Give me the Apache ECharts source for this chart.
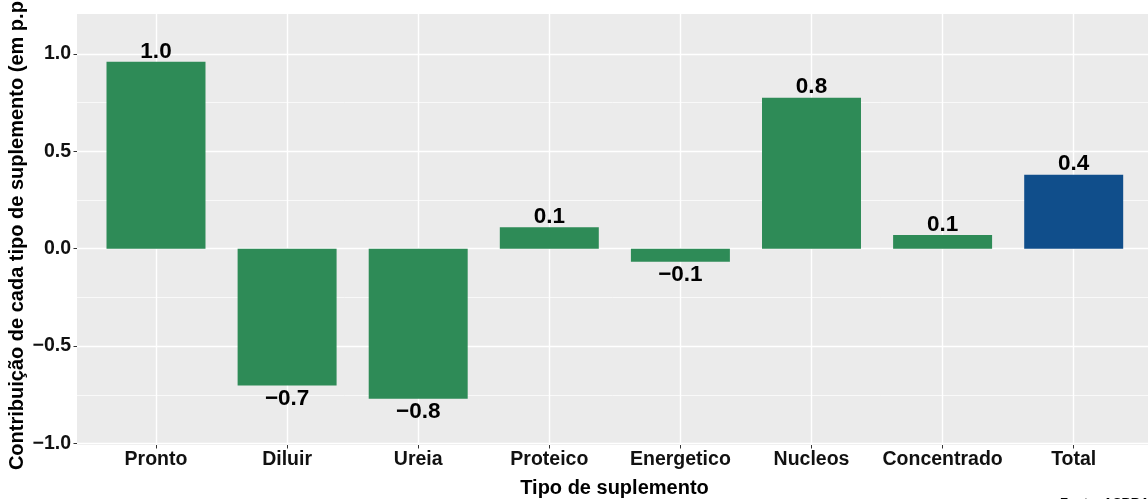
<!DOCTYPE html>
<html>
<head>
<meta charset="utf-8">
<script src="https://cdn.jsdelivr.net/npm/echarts@6/dist/echarts.min.js"></script>
<style>
  html, body { margin: 0; padding: 0; background: #fff; }
  #chart { width: 1148px; height: 499px; }
</style>
</head>
<body>
<div id="chart"></div>
<script>
// dados
var categories = ['Pronto', 'Diluir', 'Ureia', 'Proteico', 'Energetico', 'Nucleos', 'Concentrado', 'Total'];
var contributions = [0.960, -0.702, -0.770, 0.110, -0.067, 0.776, 0.070, 0.380];
var yTicks = [-1.0, -0.5, 0.0, 0.5, 1.0];
var minorBreaks = [-0.75, -0.25, 0.25, 0.75];
var yTitle = 'Contribuição de cada tipo de suplemento (em p.p.)';
var xTitle = 'Tipo de suplemento';
var sourceText = 'Fonte: ASBRAM';

var font = '"Liberation Sans", Arial, Helvetica, sans-serif';
var green = '#2E8B57', blue = '#104E8B';
var yMin = -1.008, yMax = 1.2055;

function minus(v, d) {		// sinal de menos tipografico
    var s = Math.abs(v).toFixed(d);
    return (v < 0 && s != (0).toFixed(d) ? '\u2212' : '') + s;
}

var barData = contributions.map(function (v, i) {
    return {
        value: v,
        itemStyle: { color: i == categories.length - 1 ? blue : green },
        label: { position: v < 0 ? 'bottom' : 'top', distance: v < 0 ? 2 : -1 }
    };
});

var myChart = echarts.init(document.getElementById('chart'));
var option = {
    animation: false,
    textStyle: { fontFamily: font },
    grid: [
        { left: 77, width: 1075, top: 14, height: 431, show: true, backgroundColor: '#EBEBEB', borderWidth: 0 },
        { left: 90.45, width: 1048.8, top: 14, height: 431 }
    ],
    xAxis: [
        { gridIndex: 0, type: 'value', show: false },
        {
            gridIndex: 1, type: 'category', data: categories, position: 'bottom',
            axisLine: { show: false, onZero: false },
            axisTick: { show: true, alignWithLabel: true, length: 3.5, lineStyle: { color: '#333', width: 1 } },
            splitLine: { show: true, alignWithLabel: true, lineStyle: { color: '#fff', width: 1.4 } },
            axisLabel: { margin: 5, color: '#111', fontSize: 19.5, fontWeight: 'bold', fontFamily: font, interval: 0 }
        }
    ],
    yAxis: [
        {
            gridIndex: 0, type: 'value', min: yMin, max: yMax,
            axisLine: { show: false },
            axisTick: { show: true, length: 3.5, customValues: yTicks, lineStyle: { color: '#333', width: 1 } },
            splitLine: { show: true, lineStyle: { color: '#fff', width: 1.4 } },
            axisLabel: {
                margin: 6, color: '#111', fontSize: 19.5, fontWeight: 'bold', fontFamily: font,
                customValues: yTicks, formatter: function (v) { return minus(v, 1); }
            }
        },
        { gridIndex: 1, type: 'value', min: yMin, max: yMax, show: false, splitLine: { show: false } }
    ],
    graphic: [
        {
            type: 'text', x: 17, y: 229.5, rotation: Math.PI / 2,
            style: { text: yTitle, fontSize: 20, fontWeight: 'bold', fontFamily: font, fill: '#000', textAlign: 'center', textVerticalAlign: 'middle' }
        },
        {
            type: 'text', x: 614.5, y: 488,
            style: { text: xTitle, fontSize: 20, fontWeight: 'bold', fontFamily: font, fill: '#000', textAlign: 'center', textVerticalAlign: 'middle' }
        },
        {
            type: 'text', x: 1060, y: 497,
            style: { text: sourceText, fontSize: 13, fontWeight: 'bold', fontFamily: font, fill: '#000', textAlign: 'left', textVerticalAlign: 'top' }
        }
    ],
    series: [
        {
            type: 'line', xAxisIndex: 0, yAxisIndex: 0, data: [], z: 1,
            markLine: {
                z: 1, silent: true, symbol: 'none', label: { show: false },
                lineStyle: { color: '#fff', width: 0.7, type: 'solid' },
                data: minorBreaks.map(function (v) { return { yAxis: v }; })
            }
        },
        {
            type: 'bar', xAxisIndex: 1, yAxisIndex: 1, z: 3,
            barWidth: '75.5%',
            data: barData,
            label: {
                show: true, color: '#000', fontSize: 22.5, fontWeight: 'bold', fontFamily: font,
                formatter: function (p) { return minus(p.value, 1); }
            }
        }
    ]
};
myChart.setOption(option, true);
</script>
</body>
</html>
